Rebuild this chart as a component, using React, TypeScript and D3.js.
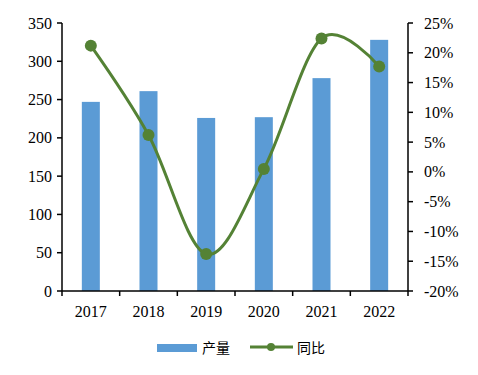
import React from "react";
import * as d3 from "d3";

const years = ["2017", "2018", "2019", "2020", "2021", "2022"];
const output = [247, 261, 226, 227, 278, 328];
const yoy = [21.2, 6.2, -13.8, 0.5, 22.4, 17.7];
const leftTicks = [0, 50, 100, 150, 200, 250, 300, 350];
const rightTicks = [-20, -15, -10, -5, 0, 5, 10, 15, 20, 25];

export default function App() {
  const W = 478, H = 375;
  const left = 62, right = 408, top = 23, bottom = 291;
  const x = d3.scaleBand().domain(years).range([left, right]).paddingInner(0).paddingOuter(0);
  const yL = d3.scaleLinear().domain([0, 350]).range([bottom, top]);
  const yR = d3.scaleLinear().domain([-20, 25]).range([bottom, top]);
  const barW = 18;
  const cx = (d: string) => (x(d) as number) + x.bandwidth() / 2;
  const line = d3.line<number>()
    .x((_, i) => cx(years[i]))
    .y((d) => yR(d))
    .curve(d3.curveCatmullRom.alpha(0));
  const font = "'Liberation Serif', 'Times New Roman', serif";
  const green = "#548235";
  const blue = "#5B9BD5";
  return (
    <svg width={W} height={H} style={{ position: "absolute", left: 0, top: 0 }}>
      <rect width={W} height={H} fill="#fff" />
      {years.map((y, i) => (
        <rect key={y} x={cx(y) - barW / 2} y={yL(output[i])} width={barW} height={bottom - yL(output[i])} fill={blue} />
      ))}
      <path d={line(yoy) || ""} fill="none" stroke={green} strokeWidth={3} />
      {yoy.map((v, i) => (
        <circle key={i} cx={cx(years[i])} cy={yR(v)} r={6} fill={green} />
      ))}
      {/* left axis */}
      <line x1={left} x2={left} y1={top} y2={bottom} stroke="#000" strokeWidth={1.5} />
      {leftTicks.map((t) => (
        <g key={t}>
          <line x1={left - 5} x2={left} y1={yL(t)} y2={yL(t)} stroke="#000" strokeWidth={1.5} />
          <text x={52} y={yL(t)} dy="0.35em" textAnchor="end" fontFamily={font} fontSize={16}>{t}</text>
        </g>
      ))}
      {/* right axis */}
      <line x1={right} x2={right} y1={top} y2={bottom} stroke="#000" strokeWidth={1.5} />
      {rightTicks.map((t) => (
        <g key={t}>
          <line x1={right} x2={right + 5} y1={yR(t)} y2={yR(t)} stroke="#000" strokeWidth={1.5} />
          <text x={424} y={yR(t)} dy="0.35em" textAnchor="start" fontFamily={font} fontSize={16}>{t}%</text>
        </g>
      ))}
      {/* x axis */}
      <line x1={left} x2={right} y1={bottom} y2={bottom} stroke="#000" strokeWidth={1.5} />
      {years.map((y) => (
        <line key={"t" + y} x1={x(y) as number} x2={x(y) as number} y1={bottom} y2={bottom + 5} stroke="#000" strokeWidth={1.5} />
      ))}
      <line x1={right} x2={right} y1={bottom} y2={bottom + 5} stroke="#000" strokeWidth={1.5} />
      {years.map((y) => (
        <text key={"l" + y} x={cx(y)} y={317} textAnchor="middle" fontFamily={font} fontSize={16}>{y}</text>
      ))}
      {/* legend */}
      <rect x={157} y={344} width={40} height={8} fill={blue} />
      <text x={202} y={353} fontFamily="'Noto Sans CJK SC', sans-serif" fontSize={14}>产量</text>
      <line x1={250} x2={293} y1={347} y2={347} stroke={green} strokeWidth={3} />
      <circle cx={271} cy={347} r={4} fill={green} />
      <text x={297} y={353} fontFamily="'Noto Sans CJK SC', sans-serif" fontSize={14}>同比</text>
    </svg>
  );
}
